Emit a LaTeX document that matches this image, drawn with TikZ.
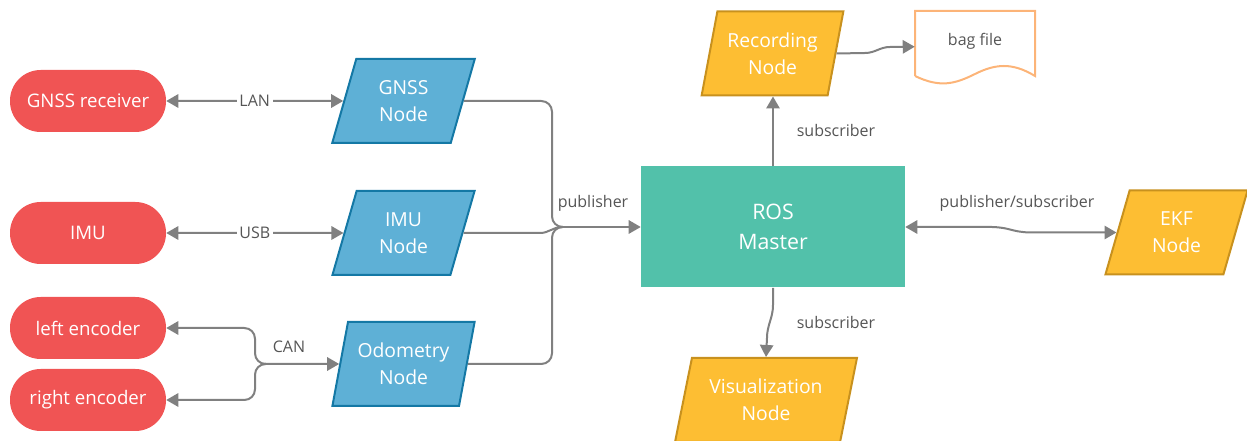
\documentclass[tikz,border=0pt]{standalone}
\usepackage{fontspec}
\setmainfont{Open Sans}
\usetikzlibrary{shapes.geometric,arrows.meta,calc}
\definecolor{pillred}{RGB}{240,84,84}
\definecolor{nodeblue}{RGB}{94,176,214}
\definecolor{blueedge}{RGB}{20,120,165}
\definecolor{masterteal}{RGB}{82,193,170}
\definecolor{nodeyellow}{RGB}{253,190,51}
\definecolor{yellowedge}{RGB}{200,145,30}
\definecolor{bagorange}{RGB}{252,180,120}
\definecolor{wire}{RGB}{128,128,128}
\definecolor{labelgray}{RGB}{85,85,85}

\begin{document}
\begin{tikzpicture}[x=0.75pt,y=-0.75pt,
  device/.style={rectangle, rounded corners=23pt, fill=pillred, text=white,
    minimum width=117pt, minimum height=46.5pt, font=\fontsize{14}{17}\selectfont},
  para/.style={trapezium, trapezium left angle=73, trapezium right angle=107,
    trapezium stretches=true, minimum width=107pt, minimum height=63pt,
    line width=1.5pt, text=white, align=center, inner sep=0pt,
    font=\fontsize{14.5}{20.5}\selectfont},
  rosnode/.style={para, fill=nodeblue, draw=blueedge},
  appnode/.style={para, fill=nodeyellow, draw=yellowedge},
  wireline/.style={draw=wire, line width=1.5pt},
  arr/.style={wireline, -{Triangle[length=9pt,width=10pt]}},
  biarr/.style={wireline, {Triangle[length=9pt,width=10pt]}-{Triangle[length=9pt,width=10pt]}},
  lbl/.style={text=labelgray, font=\fontsize{12}{14}\selectfont},
  gaplbl/.style={lbl, fill=white, inner sep=2pt},
]
\useasboundingbox (0,0) rectangle (1247,441);

% devices
\node[device] (gnssr) at (88,101) {GNSS receiver};
\node[device] (imu)   at (88,233) {IMU};
\node[device] (lenc)  at (88,328) {left encoder};
\node[device] (renc)  at (88,400) {right encoder};

% driver nodes
\node[rosnode] (gnssn) at (403.5,101) {GNSS\\Node};
\node[rosnode] (imun)  at (403.5,233) {IMU\\Node};
\node[rosnode] (odomn) at (403.5,364) {Odometry\\Node};

% master
\node[rectangle, fill=masterteal, minimum width=198pt, minimum height=90.75pt,
  text=white, align=center, font=\fontsize{16}{23}\selectfont] (ros) at (773,227) {ROS\\Master};

% consumer nodes
\node[appnode] (rec) at (772.5,53.5) {Recording\\Node};
\node[appnode] (ekf) at (1176.5,232.5) {EKF\\Node};
\node[appnode, minimum width=136.5pt] (vis) at (766,400) {Visualization\\Node};

% bag file (document shape)
\node[minimum width=90pt, minimum height=51.75pt, inner sep=0pt] (bag) at (975,45.5) {};
\node[lbl] (bagtext) at (975,41) {bag file};
\draw[draw=bagorange, line width=1.5pt]
  (915,76) -- (915,11) -- (1035,11) -- (1035,76)
  .. controls (1012,62) and (995,64) .. (975,74)
  .. controls (955,84) and (940,88) .. (915,76);

% device links
\draw[biarr] (gnssr.east) -- node[gaplbl] {LAN} (gnssn.west);
\draw[biarr] (imu.east) -- node[gaplbl] {USB} (imun.west);

\coordinate (canj) at (265,364);
\draw[arr] (canj) -- (odomn.west);
\draw[arr, rounded corners=8] (canj) -- (255,364) -- (255,328) -- (lenc.east);
\draw[arr, rounded corners=8] (canj) -- (255,364) -- (255,400) -- (renc.east);
\node[lbl] (canlbl) at (289,347) {CAN};

% publishers
\coordinate (hub) at (562,227);
\draw[wireline, rounded corners=8] (gnssn.east) -- (552,101) -- (552,227) -- (hub);
\draw[wireline, rounded corners=8] (odomn.east) -- (552,364) -- (552,227) -- (hub);
\draw[wireline] (imun.east) -- (540,233) to[out=0,in=180] (hub);
\draw[arr] (hub) -- (ros.west);
\node[lbl] (publbl) at (593,203) {publisher};

% subscribers
\draw[arr] (ros.north) -- (ros.north |- rec.south);
\node[lbl] (sub1) at (836,131) {subscriber};
\draw[arr] (ros.south) -- (773,305) to[out=-90,in=90] (767,338) -- (vis.center |- vis.north);
\node[lbl] (sub2) at (836,323) {subscriber};
\draw[biarr, rounded corners=6] (ros.east) -- (1000,227) -- (1022,232.5) -- (ekf.west);
\node[lbl] (pslbl) at (1017,203) {publisher/subscriber};

% recording to bag
\draw[arr] (rec.east) -- (865,53) to[out=0,in=180] (890,47) -- ($(bag.north west)+(0,36)$);
\end{tikzpicture}
\end{document}
